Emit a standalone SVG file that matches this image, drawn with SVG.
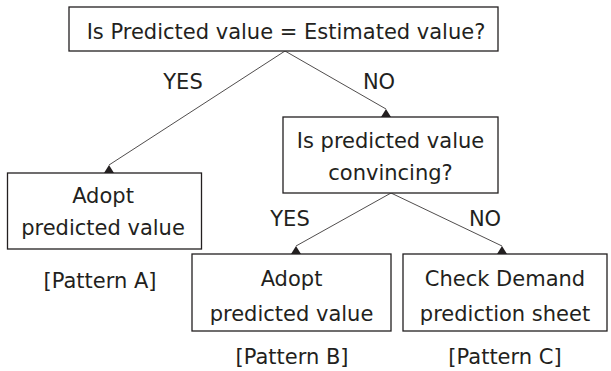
<svg xmlns="http://www.w3.org/2000/svg" width="611" height="371" viewBox="0 0 611 371">
  <style>
    .box { fill: #fff; stroke: #231f20; stroke-width: 1.3; }
    .t { font-family: "DejaVu Sans", Verdana, sans-serif; font-size: 21px; fill: #231f20; text-anchor: middle; }
    .edge { stroke: #231f20; stroke-width: 0.8; fill: none; }
    .head { fill: #231f20; }
  </style>
  <defs>
    <!-- upright triangle, apex at the origin, base resting on the box top -->
    <path id="head" d="M-5,8 L0,0 L5,8 Z"/>
  </defs>
  <rect width="611" height="371" fill="#fff"/>

  <g id="connectors">
    <line class="edge" x1="285" y1="51" x2="109" y2="165"/>
    <line class="edge" x1="285" y1="51" x2="386" y2="109"/>
    <line class="edge" x1="391" y1="193" x2="296" y2="246"/>
    <line class="edge" x1="391" y1="193" x2="502" y2="246"/>
    <use href="#head" class="head" x="109" y="165"/>
    <use href="#head" class="head" x="386" y="109"/>
    <use href="#head" class="head" x="296" y="246"/>
    <use href="#head" class="head" x="502" y="246"/>
    <text class="t" x="183" y="89">YES</text>
    <text class="t" x="379" y="89">NO</text>
    <text class="t" x="290" y="226">YES</text>
    <text class="t" x="485" y="226">NO</text>
  </g>

  <g id="q1">
    <rect class="box" x="69" y="7" width="429" height="44"/>
    <text class="t" x="286" y="39">Is Predicted value = Estimated value?</text>
  </g>

  <g id="q2">
    <rect class="box" x="283" y="117" width="215" height="76"/>
    <text class="t" x="390.5" y="148">Is predicted value</text>
    <text class="t" x="390.5" y="180">convincing?</text>
  </g>

  <g id="patternA">
    <rect class="box" x="7.5" y="173" width="194" height="76"/>
    <text class="t" x="103" y="203">Adopt</text>
    <text class="t" x="103" y="235">predicted value</text>
    <text class="t" x="100" y="288">[Pattern A]</text>
  </g>

  <g id="patternB">
    <rect class="box" x="192" y="254" width="199" height="77"/>
    <text class="t" x="291.5" y="286">Adopt</text>
    <text class="t" x="291.5" y="321">predicted value</text>
    <text class="t" x="292" y="364">[Pattern B]</text>
  </g>

  <g id="patternC">
    <rect class="box" x="403" y="254" width="204" height="77"/>
    <text class="t" x="505" y="286">Check Demand</text>
    <text class="t" x="505" y="321">prediction sheet</text>
    <text class="t" x="505" y="364">[Pattern C]</text>
  </g>
</svg>
